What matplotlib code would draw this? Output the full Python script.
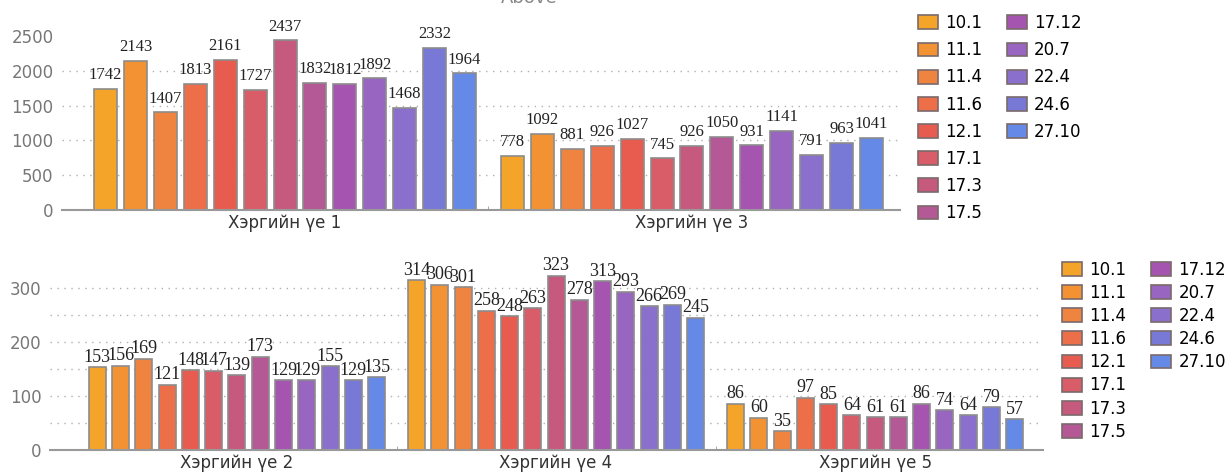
import numpy as np
import matplotlib.pyplot as plt
from matplotlib.patches import Patch

series = ['10.1', '11.1', '11.4', '11.6', '12.1', '17.1', '17.3', '17.5',
          '17.12', '20.7', '22.4', '24.6', '27.10']
colors = ['#F5A42A', '#F29233', '#EF8340', '#EC6F4A', '#E85C50', '#D95C69',
          '#C65A7E', '#B55896', '#A555B0', '#9866C1', '#8A70CC', '#7879D6', '#6489E6']

top_groups = ['Хэргийн үе 1', 'Хэргийн үе 3']
top_values = [
    [1742, 2143, 1407, 1813, 2161, 1727, 2437, 1832, 1812, 1892, 1468, 2332, 1964],
    [778, 1092, 881, 926, 1027, 745, 926, 1050, 931, 1141, 791, 963, 1041],
]
top_yticks = [0, 500, 1000, 1500, 2000, 2500]

bot_groups = ['Хэргийн үе 2', 'Хэргийн үе 4', 'Хэргийн үе 5']
bot_values = [
    [153, 156, 169, 121, 148, 147, 139, 173, 129, 129, 155, 129, 135],
    [314, 306, 301, 258, 248, 263, 323, 278, 313, 293, 266, 269, 245],
    [86, 60, 35, 97, 85, 64, 61, 61, 86, 74, 64, 79, 57],
]
bot_yticks = [0, 100, 200, 300]
bot_yminor = [50, 150, 250]

fig = plt.figure(figsize=(12.31, 4.72), dpi=100)
ax1 = fig.add_axes([0.0504, 0.555, 0.6806, 0.4025])
ax2 = fig.add_axes([0.0406, 0.0466, 0.8064, 0.412])


def draw(ax, groups, values, step, width, xlim, ylim, lab_size, lab_off):
    n = len(series)
    offs = (np.arange(n) - (n - 1) / 2) * step
    for g, vals in enumerate(values):
        xs = g + offs
        ax.bar(xs, vals, width=width, color=colors, edgecolor='#8c8c8c', linewidth=1.2, zorder=3)
        for x, v in zip(xs, vals):
            ax.annotate(str(v), (x, v), xytext=(0, lab_off), textcoords='offset points',
                        ha='center', va='bottom', fontsize=lab_size,
                        family='Liberation Serif', color='#222222', zorder=4)
    ng = len(groups)
    ax.set_xticks(range(ng))
    ax.set_xticklabels(groups, fontsize=12, color='#333333')
    ax.tick_params(axis='x', which='major', length=0, pad=3)
    minor = list(np.concatenate([g + offs for g in range(ng)])) + [g + 0.5 for g in range(ng - 1)]
    ax.set_xticks(minor, minor=True)
    ax.tick_params(axis='x', which='minor', direction='in', length=3, color='#999999')
    ax.set_xlim(*xlim)
    ax.set_ylim(*ylim)
    for s in ['top', 'right', 'left']:
        ax.spines[s].set_visible(False)
    ax.spines['bottom'].set_color('#999999')
    ax.spines['bottom'].set_linewidth(1.5)
    ax.spines['bottom'].set_zorder(5)
    ax.tick_params(axis='y', length=0, labelsize=12, labelcolor='#777777', pad=6)


draw(ax1, top_groups, top_values, 0.0735, 0.0565, (-0.548, 1.511), (0, 2730), 12, 4)
ax1.set_yticks(top_yticks)
ax1.yaxis.grid(True, linestyle=(0, (1, 4)), color='#b0b0b0', linewidth=1, zorder=0)
gl = ax1.yaxis.get_gridlines()
gl[0].set_visible(False)
gl[-1].set_visible(False)

draw(ax2, bot_groups, bot_values, 0.0729, 0.0533, (-0.586, 2.525), (0, 360), 13, 1)
ax2.set_yticks(bot_yticks)
ax2.set_yticks(bot_yminor, minor=True)
ax2.tick_params(axis='y', which='minor', length=0)
ax2.yaxis.grid(True, which='both', linestyle=(0, (1, 4)), color='#b0b0b0', linewidth=1, zorder=0)
ax2.yaxis.get_gridlines()[0].set_visible(False)

fig.text(0.43, 1.004, 'Above', ha='center', va='center', fontsize=13, color='#888888')

# 8 rows in the first column, 5 in the second: pad with blank entries
handles = [Patch(facecolor=c, edgecolor='#7a6a6a', linewidth=1.2) for c in colors]
blank = Patch(facecolor='none', edgecolor='none')
leg_handles = handles + [blank] * 3
leg_labels = series + [''] * 3

fig.legend(leg_handles, leg_labels, loc='upper left', bbox_to_anchor=(0.7457, 0.970), ncol=2,
           frameon=False, fontsize=12, borderpad=0, borderaxespad=0,
           handlelength=1.2, handleheight=0.9, handletextpad=0.45,
           labelspacing=0.55, columnspacing=1.45)
fig.legend(leg_handles, leg_labels, loc='upper left', bbox_to_anchor=(0.8627, 0.448), ncol=2,
           frameon=False, fontsize=12, borderpad=0, borderaxespad=0,
           handlelength=1.2, handleheight=0.9, handletextpad=0.45,
           labelspacing=0.31, columnspacing=1.45)

fig.savefig('out.png', dpi=100)
